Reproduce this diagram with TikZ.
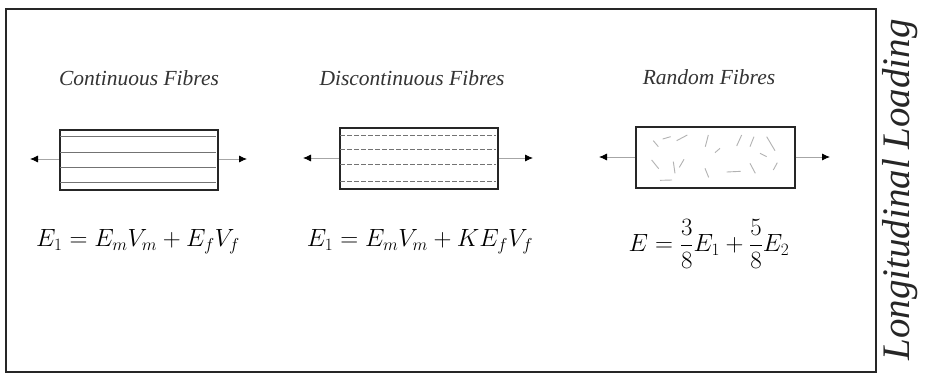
\documentclass[tikz,border=0pt]{standalone}
\usepackage{fontspec}
\setmainfont{Liberation Serif}
\usetikzlibrary{arrows.meta}
\tikzset{
  frame/.style={draw=black!85, line width=2.2pt},
  sample/.style={draw=black!85, line width=1.6pt, fill=white, inner sep=0pt, anchor=north west},
  title/.style={font=\fontsize{21.5}{24}\selectfont\itshape, text=black!80},
  eqn/.style={font=\fontsize{27}{30}\selectfont},
  load/.style={draw=black!35, line width=0.8pt, -{Latex[black,length=8pt,width=7pt]}},
  fib/.style={draw=black!55, line width=0.5pt},
  rfib/.style={draw=black!30, line width=0.9pt},
}
\begin{document}
\begin{tikzpicture}[x=1pt,y=-1pt]
\useasboundingbox (0,0) rectangle (925,376);
\node[frame, minimum width=870pt, minimum height=363pt, anchor=north west, inner sep=0pt] (fr) at (5,8) {};

% titles
\node[title] (t1) at (139,78) {Continuous Fibres};
\node[title] (t2) at (412,78) {Discontinuous Fibres};
\node[title] (t3) at (709,77) {Random Fibres};

% sample boxes
\node[sample, minimum width=158pt, minimum height=60pt] (b1) at (59,129) {};
\node[sample, minimum width=158pt, minimum height=61pt] (b2) at (339,127) {};
\node[sample, minimum width=159pt, minimum height=61pt] (b3) at (635,126) {};

% continuous fibres
\foreach \yy in {136,152,167,182} \draw[fib] (60,\yy) -- (216,\yy);
% discontinuous fibres
\foreach \yy in {135,149,164,181} \draw[fib, dash pattern=on 5pt off 2pt] (340,\yy) -- (496,\yy);
% random fibres
\begin{scope}[shift={(580,120)}, x=0.3333pt, y=-0.3333pt]
\draw[rfib] (220,62)--(235,80);
\draw[rfib] (248,57)--(272,50);
\draw[rfib] (290,62)--(322,45);
\draw[rfib] (385,45)--(376,80);
\draw[rfib] (405,98)--(420,85);
\draw[rfib] (470,78)--(485,45);
\draw[rfib] (510,80)--(522,50);
\draw[rfib] (560,50)--(585,92);
\draw[rfib] (215,120)--(236,146);
\draw[rfib] (280,125)--(285,160);
\draw[rfib] (298,142)--(312,118);
\draw[rfib] (375,145)--(386,172);
\draw[rfib] (440,156)--(482,154);
\draw[rfib] (510,130)--(526,160);
\draw[rfib] (580,150)--(592,128);
\draw[rfib] (240,181)--(276,180);
\draw[rfib] (540,100)--(560,110);
\end{scope}

% loading arrows
\coordinate (l1) at (30,159); \coordinate (r1) at (247,159);
\coordinate (l2) at (303,158); \coordinate (r2) at (533,158);
\coordinate (l3) at (599,157); \coordinate (r3) at (830,157);
\draw[load] (b1.west |- l1) -- (l1);
\draw[load] (b1.east |- r1) -- (r1);
\draw[load] (b2.west |- l2) -- (l2);
\draw[load] (b2.east |- r2) -- (r2);
\draw[load] (b3.west |- l3) -- (l3);
\draw[load] (b3.east |- r3) -- (r3);

% equations
\node[eqn] (e1) at (138,242) {$E_1 = E_m V_m + E_f V_f$};
\node[eqn] (e2) at (420,242) {$E_1 = E_m V_m + K E_f V_f$};
\node[eqn] (e3) at (709,244) {$\displaystyle E = \frac{3}{8}E_1 + \frac{5}{8}E_2$};

% side label
\node[rotate=90, font=\fontsize{39}{42}\selectfont\itshape, text=black!85] (side) at (900,190) {Longitudinal Loading};
\end{tikzpicture}
\end{document}
